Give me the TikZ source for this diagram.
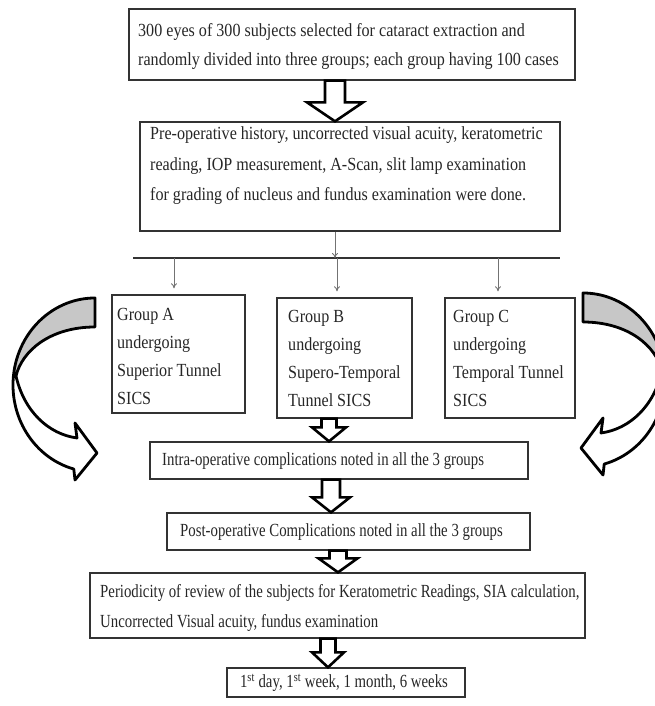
\documentclass[tikz,border=0pt]{standalone}
\usepackage{fontspec}
\setmainfont{Liberation Serif}[FakeStretch=0.87]
\newfontfamily\narrowrm{Liberation Serif}[FakeStretch=0.80]
\usetikzlibrary{calc,arrows.meta}

% hollow block arrow between two anchors: start, end, half shaft, half head, head length
\newcommand{\fatarrow}[5]{%
  \draw[fat] let \p1=(#1), \p2=(#2) in
    (\x1-#3,\y1) -- (\x1-#3,\y2+#5) -- (\x1-#4,\y2+#5) -- (\x1,\y2)
    -- (\x1+#4,\y2+#5) -- (\x1+#3,\y2+#5) -- (\x1+#3,\y1) -- cycle;}

\begin{document}
\begin{tikzpicture}[x=1pt,y=1pt,
  box/.style={draw=black!80,line width=1.3pt,inner sep=0pt},
  txt/.style={align=left,inner sep=0pt,text=black!85,
    font={\fontsize{18.5}{29}\selectfont}},
  txtn/.style={txt,font={\narrowrm\fontsize{18.5}{30}\selectfont}},
  thinarr/.style={draw=black!55,line width=0.9pt,-{To[length=5pt,width=6pt]}},
  fat/.style={draw=black,fill=white,line width=2.6pt,line join=miter},
  curvedarr/.style={draw=black,line width=2.8pt,line join=round},
  shade/.style={fill=black!22}]
  \useasboundingbox (0,0) rectangle (654,706);
  % curved side arrows
  \fill[shade] (95,408) arc[start angle=90,end angle=174,x radius=82,y radius=87]
    -- (16,330) .. controls (22,355) and (50,379) .. (95,379) -- cycle;
  \draw[curvedarr] (95,408) arc[start angle=90,end angle=255,x radius=82,y radius=87]
    -- (75,226) -- (97,253) -- (75,283) -- (77,268)
    .. controls (48,272) and (24,295) .. (16,330)
    .. controls (22,355) and (50,379) .. (95,379) -- cycle;
  \begin{scope}[xshift=678,xscale=-1,yshift=5]
    \fill[shade] (95,408) arc[start angle=90,end angle=174,x radius=82,y radius=87]
      -- (16,330) .. controls (22,355) and (50,379) .. (95,379) -- cycle;
    \draw[curvedarr] (95,408) arc[start angle=90,end angle=255,x radius=82,y radius=87]
      -- (75,226) -- (97,253) -- (75,283) -- (77,268)
      .. controls (48,272) and (24,295) .. (16,330)
      .. controls (22,355) and (50,379) .. (95,379) -- cycle;
  \end{scope}
  % boxes
  \node[box,minimum width=446,minimum height=71] (sel) at (352,661.5) {};
  \node[txt,anchor=west] (selt) at (138,660)
    {300 eyes of 300 subjects selected for cataract extraction and\\
     randomly divided into three groups; each group having 100 cases};
  \node[box,minimum width=420,minimum height=109] (pre) at (350,529.5) {};
  \node[txt,anchor=west,font={\fontsize{18.5}{30.5}\selectfont}] (pret) at (150,540)
    {Pre-operative history, uncorrected visual acuity, keratometric\\
     reading, IOP measurement, A-Scan, slit lamp examination\\
     for grading of nucleus and fundus examination were done.};
  \node[box,minimum width=133,minimum height=118] (gA) at (178.5,352) {};
  \node[txt,anchor=west,font={\fontsize{18.5}{28}\selectfont}] (gAt) at (117,350)
    {Group A\\undergoing\\Superior Tunnel\\SICS};
  \node[box,minimum width=135,minimum height=120] (gB) at (344.5,348) {};
  \node[txt,anchor=west,font={\fontsize{18.5}{28}\selectfont}] (gBt) at (288,348)
    {Group B\\undergoing\\Supero-Temporal\\Tunnel SICS};
  \node[box,minimum width=130,minimum height=120] (gC) at (510,348) {};
  \node[txt,anchor=west,font={\fontsize{18.5}{28}\selectfont}] (gCt) at (453,348)
    {Group C\\undergoing\\Temporal Tunnel\\SICS};
  \node[box,minimum width=378,minimum height=37] (intra) at (339,245.5) {};
  \node[txtn,anchor=west] (intrat) at (162,245)
    {Intra-operative complications noted in all the 3 groups};
  \node[box,minimum width=363,minimum height=37] (post) at (348.5,174.5) {};
  \node[txtn,anchor=west] (postt) at (180,174)
    {Post-operative Complications noted in all the 3 groups};
  \node[box,minimum width=495,minimum height=65] (per) at (337.5,100.5) {};
  \node[txtn,anchor=west] (pert) at (100,98)
    {Periodicity of review of the subjects for Keratometric Readings, SIA calculation,\\
     Uncorrected Visual acuity, fundus examination};
  \node[box,minimum width=238,minimum height=29] (last) at (346,23.5) {};
  \node[txtn] (lastt) at (344,23)
    {1\textsuperscript{st} day, 1\textsuperscript{st} week, 1 month, 6 weeks};
  % splitting line and thin arrows
  \coordinate (barL) at (133,448);
  \coordinate (barR) at (560,448);
  \coordinate (bM) at (335,448);
  \coordinate (bA) at (174,448);
  \coordinate (bB) at (337,448);
  \coordinate (bC) at (498,448);
  \draw[black!80,line width=1.2pt] (barL) -- (barR);
  \draw[thinarr] (pre.south -| bM) -- (bM);
  \draw[thinarr,shorten >=6pt] (bA) -- (bA |- gA.north);
  \draw[thinarr,shorten >=6pt] (bB) -- (bB |- gB.north);
  \draw[thinarr,shorten >=6pt] (bC) -- (bC |- gC.north);
  % block arrows
  \fatarrow{[xshift=-17pt]sel.south}{pre.north}{10pt}{28pt}{19pt}
  \fatarrow{[xshift=-15.5pt]gB.south}{intra.north}{7.5pt}{17pt}{14pt}
  \fatarrow{[xshift=-8pt]intra.south}{post.north}{9pt}{19pt}{15pt}
  \fatarrow{[xshift=-10.5pt]post.south}{per.north}{8.5pt}{19.5pt}{14pt}
  \fatarrow{[xshift=-9.5pt]per.south}{last.north}{7.5pt}{16pt}{15pt}
\end{tikzpicture}
\end{document}
